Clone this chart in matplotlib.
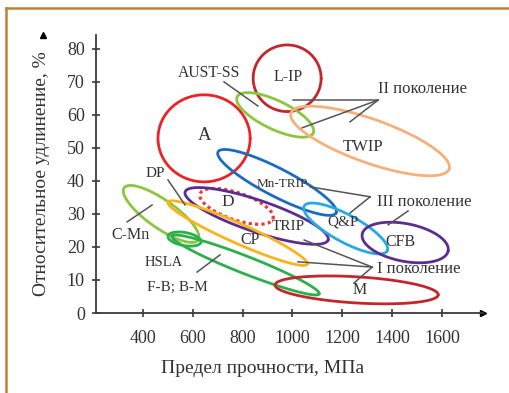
import numpy as np
import matplotlib
matplotlib.use("Agg")
import matplotlib.pyplot as plt
from matplotlib.lines import Line2D

plt.rcParams['font.family'] = ['Liberation Serif', 'DejaVu Serif']

# ---- data: steel classes as regions (major axis end points: strength MPa, elongation %) ----
regions = ['A', 'L-IP', 'AUST-SS', 'TWIP', 'Mn-TRIP', 'D', 'TRIP', 'Q&P', 'CFB',
           'C-Mn', 'DP/CP', 'HSLA', 'F-B; B-M', 'M']
x_start = [460, 842, 778, 994, 701, 629, 569, 1047, 1280, 324, 500, 500, 516, 930]
y_start = [52.9, 71.1, 65.5, 60.6, 48.8, 36.1, 36.7, 32.4, 23.9, 37.9, 33.6, 23.3, 23.3, 8.5]
x_end = [830, 1115, 1083, 1629, 1175, 922, 1143, 1380, 1625, 621, 1059, 633, 1107, 1585]
y_end = [52.9, 71.1, 54.5, 43.6, 30.3, 28.5, 22.1, 18.8, 18.8, 22.1, 14.8, 21.5, 5.8, 5.5]
minor_ratio = [0.945, 0.98, 0.34, 0.26, 0.21, 0.35, 0.21, 0.29, 0.43, 0.31, 0.13, 0.39, 0.11, 0.16]

region_colors = ['#ec2227', '#c1272d', '#8cc63f', '#f6b07c', '#1c6bbf', '#ef3b36', '#5c2d91',
                 '#27aae1', '#5c2d91', '#8cc63f', '#f9b41b', '#2bb04a', '#2bb04a', '#c1272d']
region_styles = ['-', '-', '-', '-', '-', (0, (1, 1)), '-', '-', '-', '-', '-', '-', '-', '-']

x_ticks = [400, 600, 800, 1000, 1200, 1400, 1600]
y_ticks = [0, 10, 20, 30, 40, 50, 60, 70, 80]

# labels: text, strength, elongation, fontsize, horizontal alignment
labels = [
    ('A', 645, 53.9, 13.5, 'center'),
    ('L-IP', 982, 71.5, 11.5, 'center'),
    ('AUST-SS', 665, 72.7, 11.3, 'center'),
    ('TWIP', 1284, 50.3, 12, 'center'),
    ('II поколение', 1344, 67.9, 12, 'left'),
    ('Mn-TRIP', 958, 39.1, 9.5, 'center'),
    ('III поколение', 1340, 33.6, 12, 'left'),
    ('Q&P', 1203, 27.6, 11, 'center'),
    ('CFB', 1432, 21.5, 11.5, 'center'),
    ('TRIP', 982, 26.1, 11, 'center'),
    ('D', 741, 33.6, 12.5, 'center'),
    ('CP', 830, 22.1, 11.5, 'center'),
    ('DP', 448, 42.4, 11, 'center'),
    ('C-Mn', 348, 23.6, 11.5, 'center'),
    ('HSLA', 482, 15.2, 10.5, 'center'),
    ('F-B; B-M', 537, 7.6, 11, 'center'),
    ('I поколение', 1340, 13.3, 12, 'left'),
    ('M', 1271, 7.0, 11.5, 'center'),
]

# leader lines (from -> to) in data units
leaders = [
    ((725, 70.0), (861, 62.7)),      # AUST-SS
    ((500, 40.3), (569, 32.7)),      # DP
    ((336, 27.6), (436, 32.7)),      # C-Mn
    ((617, 12.4), (709, 17.6)),      # HSLA
    ((1344, 64.5), (1002, 64.5)),    # II gen
    ((1344, 64.5), (1039, 56.1)),
    ((1344, 64.5), (1231, 57.9)),
    ((1312, 35.2), (1071, 38.2)),    # III gen
    ((1312, 35.2), (1231, 30.3)),
    ((1464, 30.9), (1384, 26.7)),
    ((1320, 13.9), (1047, 22.1)),    # I gen
    ((1320, 13.9), (1022, 15.5)),
    ((1320, 13.9), (1247, 9.1)),
]

# ---- figure ----
W, H = 510, 393
fig = plt.figure(figsize=(W / 100, H / 100), dpi=100)
fig.patch.set_facecolor('white')
ax = fig.add_axes([96 / W, 80 / H, 387 / W, 278 / H])
ax.set_xlim(211, 1765)
ax.set_ylim(0, 84.2)

axis_col = '#3a3a3a'
text_col = '#333333'
for s in ['top', 'right']:
    ax.spines[s].set_visible(False)
for s in ['left', 'bottom']:
    ax.spines[s].set_color(axis_col)
    ax.spines[s].set_linewidth(1.3)
ax.plot(1, 0, '>', color='black', ms=5, transform=ax.get_yaxis_transform(), clip_on=False)
ax.plot(0, 1, '^', color='black', ms=5, transform=ax.get_xaxis_transform(), clip_on=False)

ax.set_xticks(x_ticks)
ax.set_yticks(y_ticks)
ax.set_xticklabels([str(v) for v in x_ticks])
ax.set_yticklabels([str(v) for v in y_ticks])
ax.tick_params(direction='inout', length=6, width=1.2, color=axis_col,
               labelsize=13, labelcolor=text_col)
ax.tick_params(axis='x', pad=9)
ax.tick_params(axis='y', pad=5)
ax.set_xlabel('Предел прочности, МПа', fontsize=14, color=text_col)
ax.set_ylabel('Относительное удлинение, %', fontsize=14, color=text_col)
ax.xaxis.set_label_coords(0.43, -0.17)
ax.yaxis.set_label_coords(-0.12, 0.5)


def draw_region(x1, y1, x2, y2, r, color, ls):
    p1 = ax.transData.transform((x1, y1))
    p2 = ax.transData.transform((x2, y2))
    c = (p1 + p2) / 2
    d = p2 - p1
    a = np.hypot(d[0], d[1]) / 2
    th = np.arctan2(d[1], d[0])
    b = r * a
    t = np.linspace(0, 2 * np.pi, 400)
    px = c[0] + a * np.cos(t) * np.cos(th) - b * np.sin(t) * np.sin(th)
    py = c[1] + a * np.cos(t) * np.sin(th) + b * np.sin(t) * np.cos(th)
    pts = ax.transData.inverted().transform(np.column_stack([px, py]))
    lw = 2.3 if ls != '-' else 2.0
    ax.plot(pts[:, 0], pts[:, 1], color=color, lw=lw, ls=ls, clip_on=False,
            solid_capstyle='round')


for i in range(len(regions)):
    draw_region(x_start[i], y_start[i], x_end[i], y_end[i], minor_ratio[i],
                region_colors[i], region_styles[i])

for (p, q) in leaders:
    ax.plot([p[0], q[0]], [p[1], q[1]], color='#555555', lw=1.1, clip_on=False)

for (txt, x, y, fs, ha) in labels:
    ax.text(x, y, txt, fontsize=fs, ha=ha, va='center', color=text_col)

# frame (top and left)
fig.add_artist(Line2D([6 / W, 1.0], [1 - 8 / H, 1 - 8 / H], color='#c08232', lw=1.8))
fig.add_artist(Line2D([6 / W, 6 / W], [0, 1 - 8 / H], color='#c08232', lw=1.8))

fig.savefig('out.png', dpi=100)
